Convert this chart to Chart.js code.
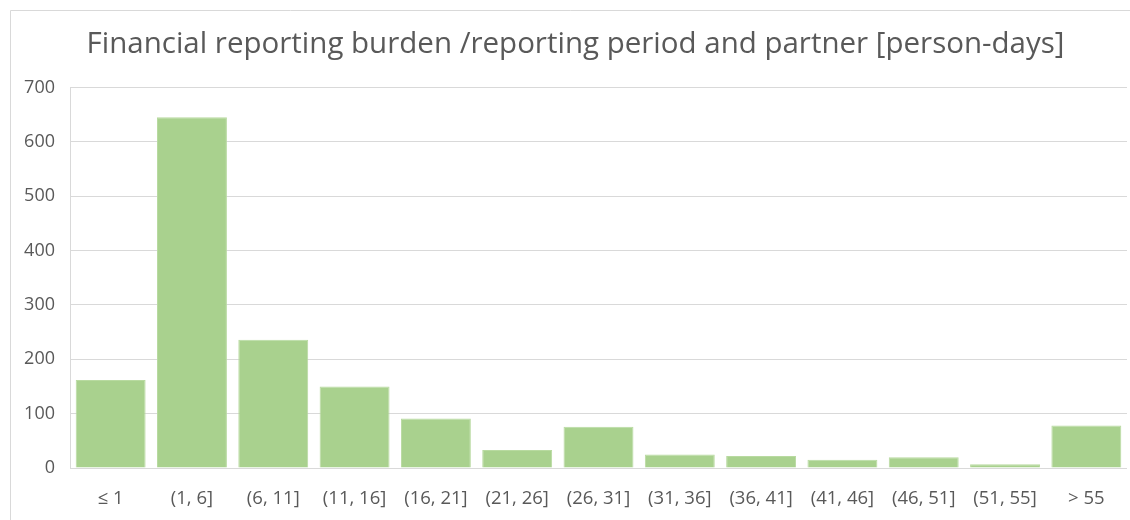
<!DOCTYPE html>
<html>
<head>
<meta charset="utf-8">
<script src="https://cdn.jsdelivr.net/npm/chart.js@4"></script>
<style>
html,body{margin:0;padding:0;background:#fff;}
#wrap{position:relative;width:1130px;height:520px;}
</style>
</head>
<body>
<div id="wrap"><canvas id="c" width="1130" height="520"></canvas></div>
<script>
const categories = ["≤ 1", "(1, 6]", "(6, 11]", "(11, 16]", "(16, 21]", "(21, 26]", "(26, 31]", "(31, 36]", "(36, 41]", "(41, 46]", "(46, 51]", "(51, 55]", "> 55"];
const values = [162, 645, 236, 150, 91, 33, 76, 25, 22, 15, 20, 7, 78];
const yTicks = [0, 100, 200, 300, 400, 500, 600, 700];
const titleText = "Financial reporting burden /reporting period and partner [person-days]";

const borderPlugin = {
  id: 'outerBorder',
  beforeDraw(chart) {
    const ctx = chart.ctx;
    ctx.save();
    ctx.fillStyle = '#fff';
    ctx.fillRect(0, 0, chart.width, chart.height);
    ctx.strokeStyle = '#D9D9D9';
    ctx.lineWidth = 1;
    ctx.beginPath();
    ctx.moveTo(10.5, chart.height + 2);
    ctx.lineTo(10.5, 10.5);
    ctx.lineTo(chart.width + 2, 10.5);
    ctx.stroke();
    ctx.restore();
  }
};

new Chart(document.getElementById('c'), {
  type: 'bar',
  data: {
    labels: categories,
    datasets: [{
      data: values,
      backgroundColor: '#A9D18E',
      borderColor: '#B8DAA0',
      borderWidth: 1,
      categoryPercentage: 1,
      barPercentage: 0.86
    }]
  },
  options: {
    responsive: false,
    animation: false,
    layout: { padding: { left: 24, right: 3, top: 10, bottom: 9 } },
    plugins: {
      legend: { display: false },
      tooltip: { enabled: false },
      title: {
        display: true,
        text: titleText,
        color: '#595959',
        font: { family: 'Open Sans', size: 29.5, weight: 'normal' },
        padding: { top: 17, bottom: 25 }
      }
    },
    scales: {
      x: {
        afterFit(axis) { axis.height = 43; },
        grid: { display: false, drawTicks: false },
        border: { display: false },
        ticks: {
          color: '#595959',
          font: { family: 'Open Sans', size: 18.5 },
          padding: 20,
          maxRotation: 0,
          autoSkip: false
        }
      },
      y: {
        min: 0,
        max: 700,
        afterBuildTicks(axis) { axis.ticks = yTicks.map(v => ({ value: v })); },
        afterFit(axis) { axis.width = 46; },
        grid: { color: '#D9D9D9', lineWidth: 1, drawTicks: false },
        border: { display: true, color: '#D9D9D9' },
        ticks: {
          color: '#595959',
          font: { family: 'Open Sans', size: 18 },
          padding: 15
        }
      }
    }
  },
  plugins: [borderPlugin]
});
</script>
</body>
</html>
